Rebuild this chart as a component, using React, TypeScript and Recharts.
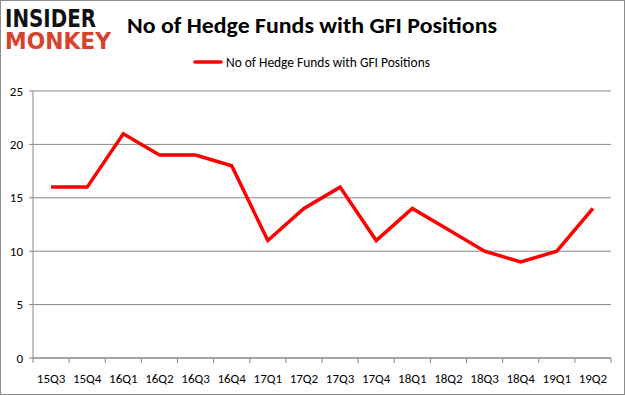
import { LineChart, Line, XAxis, YAxis, CartesianGrid } from 'recharts'

const quarters = ['15Q3', '15Q4', '16Q1', '16Q2', '16Q3', '16Q4', '17Q1', '17Q2', '17Q3', '17Q4', '18Q1', '18Q2', '18Q3', '18Q4', '19Q1', '19Q2']
const hedgeFunds = [16, 16, 21, 19, 19, 18, 11, 14, 16, 11, 14, 12, 10, 9, 10, 14]
const yTicks = [0, 5, 10, 15, 20, 25]
// category boundaries, used only for the little tick marks under the axis
const bandEdges = quarters.map((_, i) => i).concat(quarters.length)

const SERIES_NAME = 'No of Hedge Funds with GFI Positions'
const FONT = 'Carlito, Lato, "Open Sans", sans-serif'

const data = quarters.map((q, i) => ({ q, idx: i, funds: hedgeFunds[i] }))

function Header() {
  return (
    <svg width={625} height={80} style={{ position: 'absolute', left: 0, top: 0, pointerEvents: 'none' }}>
      <text x={5} y={27} textLength={91} lengthAdjust="spacingAndGlyphs" fontFamily="DejaVu Sans" fontWeight="bold" fontSize={24} fill="#111">
        INSIDER
      </text>
      <text x={5} y={49} textLength={106} lengthAdjust="spacingAndGlyphs" fontFamily="DejaVu Sans" fontWeight="bold" fontSize={23} fill="#d9412c">
        MONKEY
      </text>
      <text x={127} y={33} textLength={370} lengthAdjust="spacingAndGlyphs" fontFamily={FONT} fontWeight="bold" fontSize={23} fill="#000">
        {SERIES_NAME}
      </text>
      <line x1={195} y1={62} x2={221} y2={62} stroke="#ff0000" strokeWidth={3.5} strokeLinecap="round" />
      <text x={226} y={66.5} textLength={204} lengthAdjust="spacingAndGlyphs" fontFamily={FONT} fontSize={13.5} fill="#000">
        {SERIES_NAME}
      </text>
    </svg>
  )
}

export default function App() {
  return (
    <div style={{ position: 'absolute', left: 0, top: 0, width: 625, height: 395, background: '#fff' }}>
      <LineChart width={625} height={395} data={data} margin={{ top: 91, right: 14, left: 0, bottom: 7 }}>
        <CartesianGrid xAxisId="cat" vertical={false} stroke="#888" strokeWidth={1} />
        <XAxis
          xAxisId={0}
          type="number"
          dataKey="idx"
          domain={[0, quarters.length]}
          ticks={bandEdges}
          allowDataOverflow
          height={1}
          tick={{ fontSize: 1, fill: 'none' }}
          tickFormatter={() => ''}
          tickLine={{ stroke: '#888' }}
          axisLine={{ stroke: '#888' }}
          tickSize={5}
        />
        <XAxis
          xAxisId="cat"
          dataKey="q"
          height={29}
          tick={{ fontSize: 13, fill: '#000', fontFamily: FONT }}
          tickLine={false}
          axisLine={false}
          interval={0}
          tickMargin={9}
          scale="band"
        />
        <YAxis
          domain={[0, 25]}
          ticks={yTicks}
          width={33}
          tick={{ fontSize: 13, fill: '#000', fontFamily: FONT }}
          tickLine={{ stroke: '#888' }}
          axisLine={{ stroke: '#888' }}
          tickSize={4}
          tickMargin={6}
        />
        <Line
          xAxisId="cat"
          type="linear"
          dataKey="funds"
          name={SERIES_NAME}
          stroke="#ff0000"
          strokeWidth={3.5}
          dot={false}
          isAnimationActive={false}
        />
      </LineChart>
      <Header />
      <div style={{ position: 'absolute', inset: 0, border: '1px solid #8c8c8c', pointerEvents: 'none' }} />
    </div>
  )
}
